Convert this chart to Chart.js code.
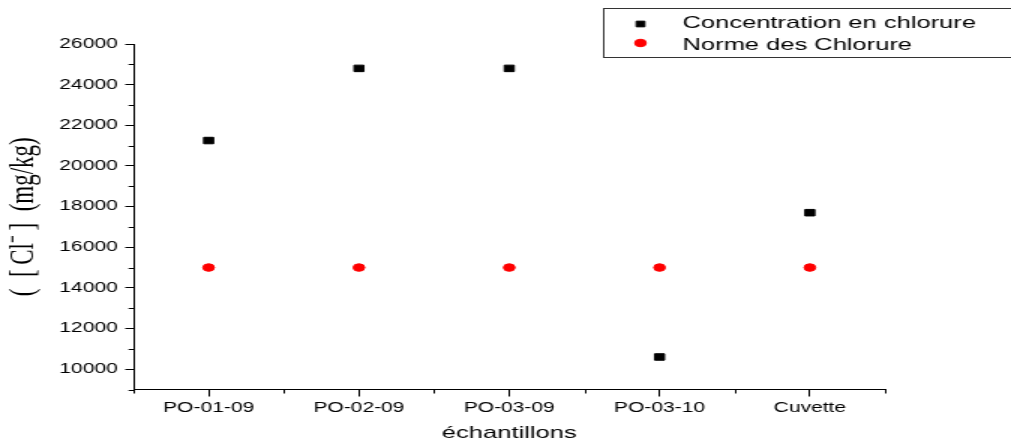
<!DOCTYPE html>
<html><head><meta charset="utf-8">
<script src="https://cdn.jsdelivr.net/npm/chart.js@4/dist/chart.umd.min.js"></script>
<style>
html,body{margin:0;padding:0;background:#fff;overflow:hidden}
#wrap{position:absolute;left:0;top:0;width:674px;height:441px;transform:scaleX(1.5);transform-origin:0 0}
#c{display:block}
</style></head><body>
<div id="wrap"><canvas id="c" width="674" height="441" style="width:674px;height:441px"></canvas></div>
<script>
const categories = ['PO-01-09', 'PO-02-09', 'PO-03-09', 'PO-03-10', 'Cuvette'];
const concentration = [21250, 24800, 24800, 10600, 17700];
const norme = [15000, 15000, 15000, 15000, 15000];
const yTicks = [10000, 12000, 14000, 16000, 18000, 20000, 22000, 24000, 26000];
const yMinorTicks = [9000, 11000, 13000, 15000, 17000, 19000, 21000, 23000, 25000];
const seriesLabels = ['Concentration en chlorure', 'Norme des Chlorure'];
const yTitle = '(  [\u2009Cl\u207B\u2009]  (mg/kg)';
const xTitle = '\u00E9chantillons';

const SANS = "'Liberation Sans', Arial, sans-serif";
const SERIF = "'Liberation Serif', 'Times New Roman', serif";

const minorTicks = {
  id: 'minorTicks',
  afterDraw(chart) {
    const ctx = chart.ctx, ca = chart.chartArea;
    const xs = chart.scales.x, ys = chart.scales.y;
    ctx.save();
    ctx.strokeStyle = '#000';
    ctx.lineWidth = 1;
    ctx.beginPath();
    yMinorTicks.forEach(v => {
      const py = Math.round(ys.getPixelForValue(v)) + 0.5;
      ctx.moveTo(ca.left - 3.3, py); ctx.lineTo(ca.left, py);
    });
    const n = categories.length;
    for (let i = 0; i <= n; i++) {
      let px;
      if (i === 0) px = ca.left;
      else if (i === n) px = ca.right;
      else px = (xs.getPixelForValue(i - 1) + xs.getPixelForValue(i)) / 2;
      px = Math.round(px) + 0.5;
      ctx.moveTo(px, ca.bottom); ctx.lineTo(px, ca.bottom + 4);
    }
    ctx.stroke();
    ctx.restore();
  }
};

const boxLegend = {
  id: 'boxLegend',
  afterDraw(chart) {
    const ctx = chart.ctx;
    ctx.save();
    ctx.strokeStyle = '#333';
    ctx.lineWidth = 1;
    ctx.strokeRect(402.5, 8.5, 300, 49);
    const rows = [24, 43];
    const tys = [23, 45];
    chart.data.datasets.forEach((ds, i) => {
      ctx.fillStyle = ds.backgroundColor;
      ctx.strokeStyle = ds.borderColor;
      ctx.lineWidth = 1;
      Chart.helpers.drawPoint(ctx, {
        pointStyle: ds.pointStyle, radius: i === 0 ? 4.0 : 3.8, rotation: 0, borderWidth: 1
      }, 427, rows[i]);
      ctx.fillStyle = '#000';
      ctx.font = "17px " + SANS;
      ctx.textBaseline = 'middle';
      ctx.textAlign = 'left';
      ctx.fillText(ds.label, 455, tys[i]);
    });
    ctx.restore();
  }
};

new Chart(document.getElementById('c'), {
  type: 'line',
  data: {
    labels: categories,
    datasets: [
      {
        label: seriesLabels[0], data: concentration, showLine: false,
        pointStyle: 'rect', pointRadius: 4.6, pointHoverRadius: 4.6, pointBorderWidth: 1,
        backgroundColor: '#000', borderColor: '#000'
      },
      {
        label: seriesLabels[1], data: norme, showLine: false,
        pointStyle: 'circle', pointRadius: 3.8, pointHoverRadius: 3.8, pointBorderWidth: 1,
        backgroundColor: '#ff0000', borderColor: '#ff0000'
      }
    ]
  },
  options: {
    responsive: false,
    animation: false,
    events: [],
    layout: { padding: { left: 0, right: 84, top: 44, bottom: 0 } },
    plugins: { legend: { display: false }, tooltip: { enabled: false } },
    scales: {
      x: {
        type: 'category',
        offset: true,
        grid: { display: true, drawOnChartArea: false, drawTicks: true, tickLength: 7, offset: false, color: '#000', lineWidth: 1 },
        border: { display: true, color: '#000', width: 1 },
        ticks: { color: '#000', font: { family: SANS, size: 14 }, padding: 3, maxRotation: 0, autoSkip: false },
        title: { display: true, text: xTitle, color: '#000', font: { family: SANS, size: 17, lineHeight: 0.85 }, padding: { top: 0, bottom: 0 } },
        afterFit(s) { s.height = 51.5; }
      },
      y: {
        type: 'linear',
        min: 9000, max: 26000,
        afterBuildTicks(s) { s.ticks = yTicks.map(v => ({ value: v })); },
        grid: { display: true, drawOnChartArea: false, drawTicks: true, tickLength: 5.5, color: '#000', lineWidth: 1 },
        border: { display: true, color: '#000', width: 1 },
        ticks: { color: '#000', font: { family: SANS, size: 14 }, padding: 5, callback: v => String(v) },
        title: { display: true, text: yTitle, color: '#000', font: { family: SERIF, size: 23 }, padding: { top: 2, bottom: 0 } },
        afterFit(s) { s.width = 89; }
      }
    }
  },
  plugins: [minorTicks, boxLegend]
});
</script>
</body></html>
